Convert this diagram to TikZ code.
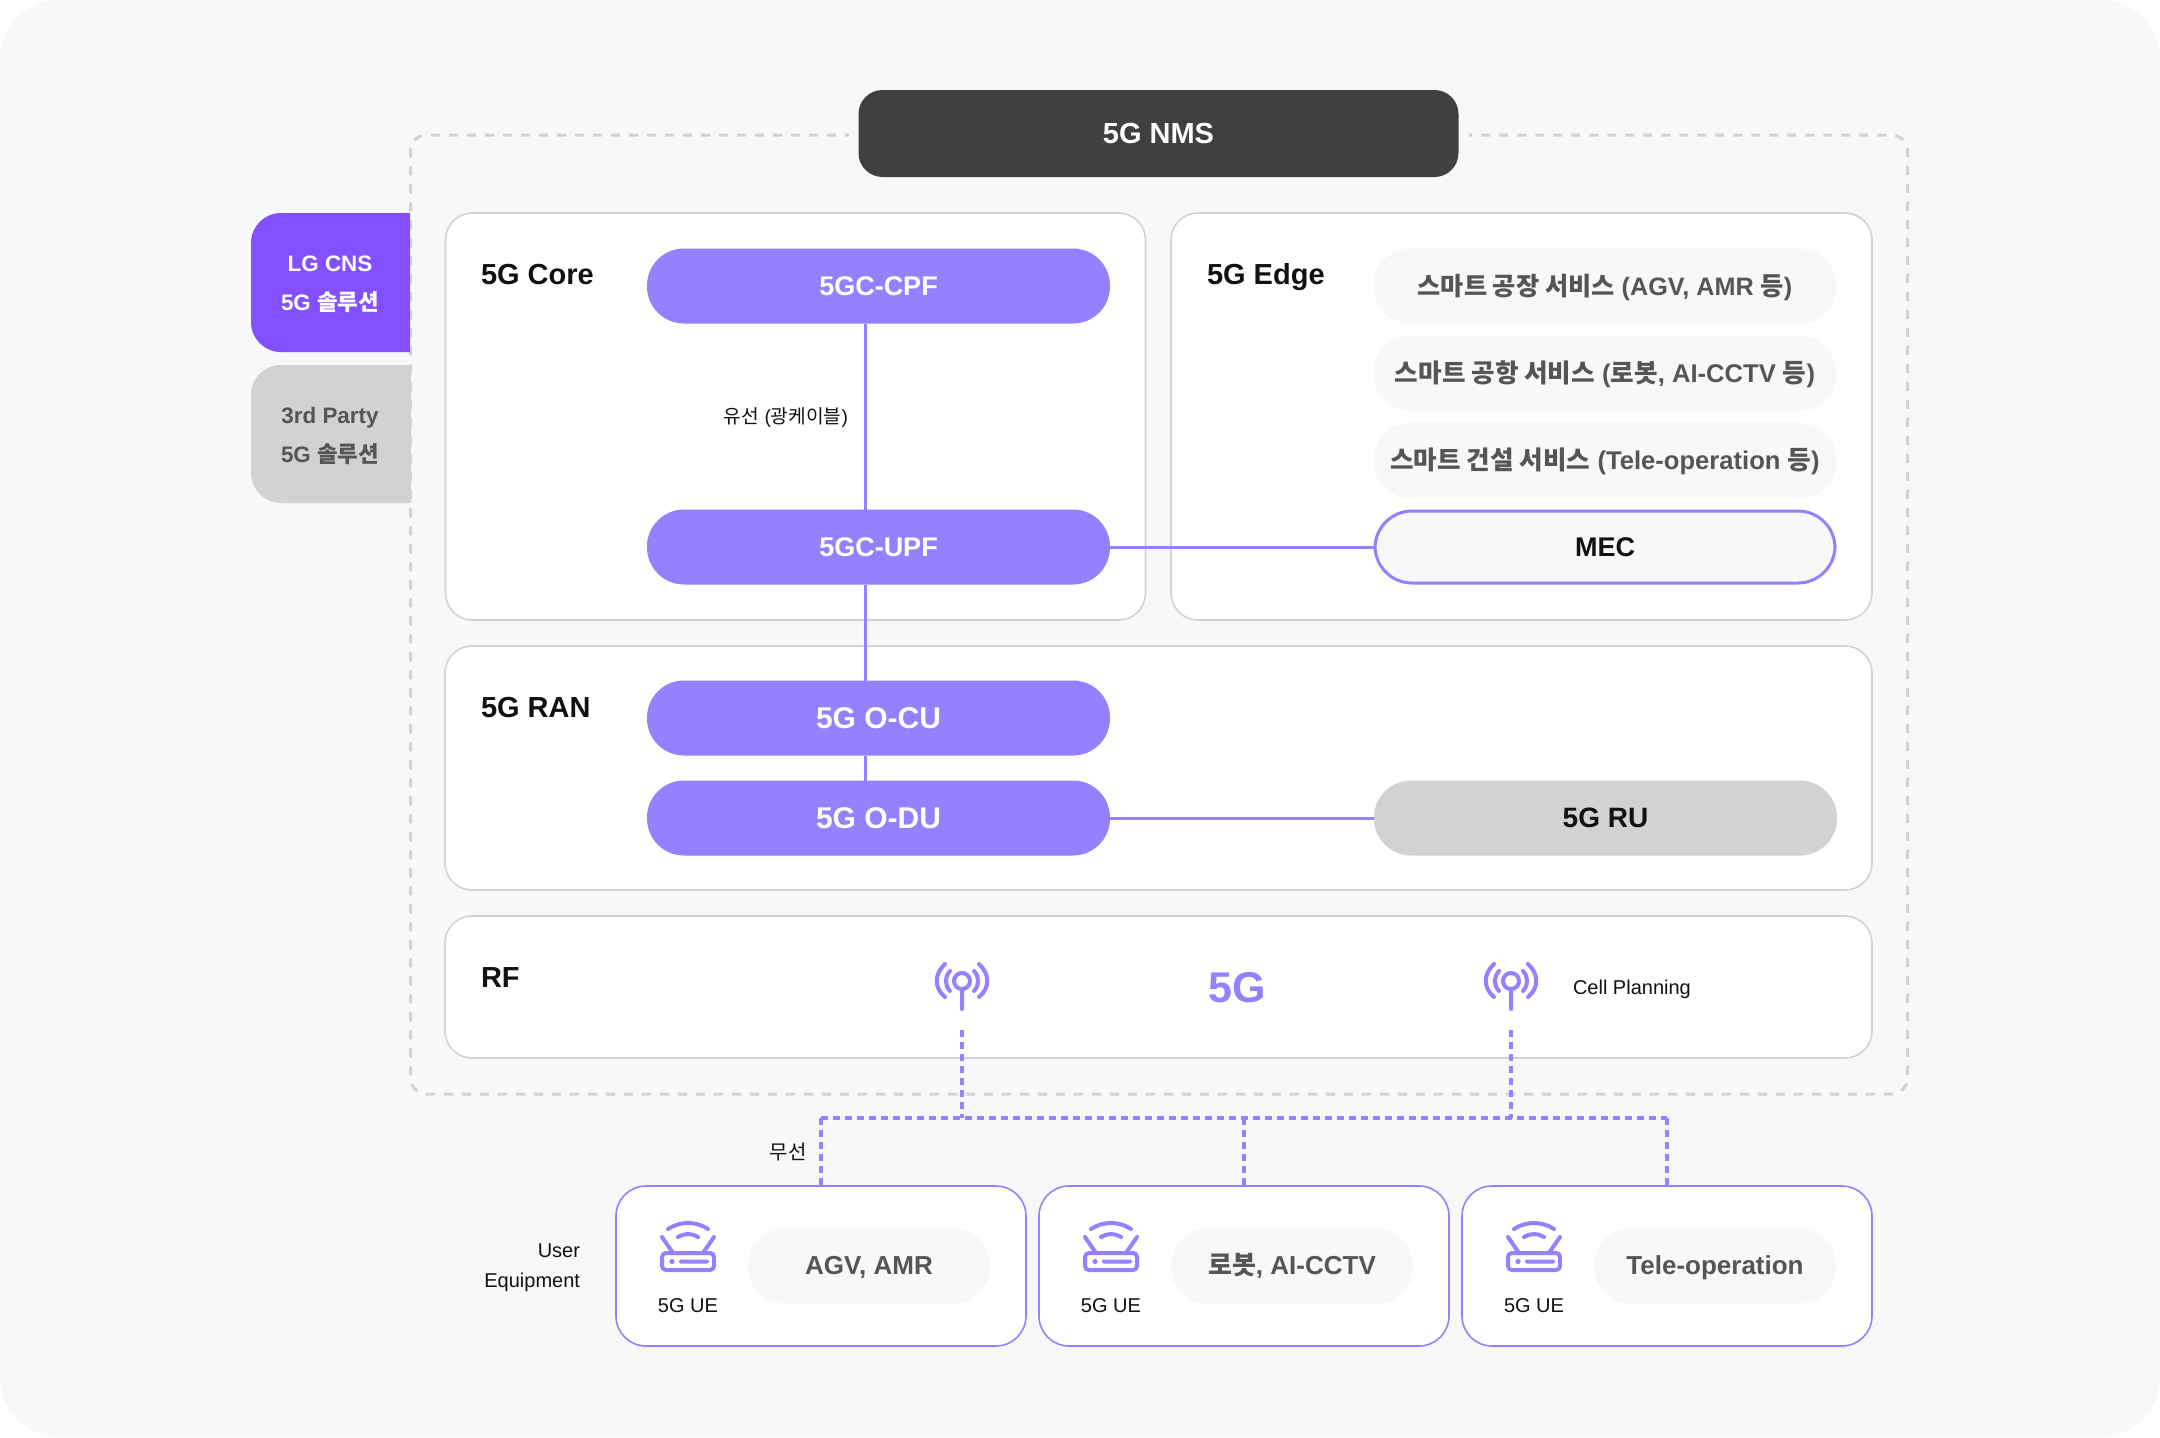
\documentclass[tikz,border=0pt]{standalone}
\usepackage{fontspec}
\usepackage{xcolor}
\usepackage{tikz}
\usetikzlibrary{positioning}
\setmainfont{Liberation Sans}
\newfontfamily\krfont{Noto Sans CJK KR}
\newcommand{\kr}[1]{{\krfont #1}}
\definecolor{pagebg}{HTML}{F7F8FA}
\definecolor{softpurple}{HTML}{9580FF}
\definecolor{deeppurple}{HTML}{8350FF}
\definecolor{softgray}{HTML}{D2D2D2}
\definecolor{darkbar}{HTML}{404040}
\definecolor{inktext}{HTML}{111111}
\definecolor{greytext}{HTML}{555555}
\newcommand{\fsize}[1]{\fontsize{#1}{#1}\selectfont}

\begin{document}
\begin{tikzpicture}[
    x=0.5pt,y=-0.5pt,
    every node/.style={outer sep=0pt, inner sep=0pt, text=inktext},
    capline/.style={text height=#1, text depth=0pt},
    panel/.style={draw=softgray, line width=0.8pt, fill=white, rounded corners=13.5pt},
    paneltitle/.style={capline=10.4pt, anchor=west, font=\bfseries\fsize{14.5}},
    corenode/.style={capline=9.7pt, fill=softpurple, rounded corners=18.5pt, minimum width=231.5pt, minimum height=37.5pt, text=white, font=\bfseries\fsize{13.5}},
    rannode/.style={corenode, capline=10.8pt, font=\bfseries\fsize{15}},
    servicenode/.style={capline=9.2pt, fill=pagebg, rounded corners=18.5pt, minimum width=231.5pt, minimum height=37.5pt, text=greytext, font=\bfseries\fsize{12.8}},
    uebox/.style={draw=softpurple, line width=0.8pt, fill=white, rounded corners=15pt, minimum width=205pt, minimum height=80pt},
    uepill/.style={capline=8.2pt, fill=pagebg, rounded corners=18.5pt, minimum width=121pt, minimum height=37.5pt, text=greytext, font=\bfseries\fsize{13}},
    smalltext/.style={capline=7.2pt, font=\fsize{10}},
    wire/.style={draw=softpurple, line width=1.5pt},
    airlink/.style={draw=softpurple, line width=1.6pt, dash pattern=on 3.5pt off 2.5pt},
    antenna/.pic={
        \draw[softpurple, line width=2pt, line cap=round]
            (0,0) circle[radius=4pt] (0,8) -- (0,28)
            (12,-10) .. controls (17.5,-4) and (17.5,4) .. (12,10)
            (17,-17) .. controls (28,-7) and (28,7) .. (17,16)
            (-12,-10) .. controls (-17.5,-4) and (-17.5,4) .. (-12,10)
            (-17,-17) .. controls (-28,-7) and (-28,7) .. (-17,16);
    },
    router/.pic={
        \draw[softpurple, line width=2pt, line cap=round, line join=round, rounded corners=2pt]
            (-26,0) rectangle (26,17);
        \draw[softpurple, line width=2pt, line cap=round]
            (-15,0) -- (-26,-16) (15,0) -- (26,-16)
            (-20,-24) .. controls (-8,-32) and (8,-32) .. (20,-24)
            (-10,-16) .. controls (-4,-20) and (4,-20) .. (10,-16)
            (-7,8.5) -- (19,8.5);
        \fill[softpurple] (-16,8.5) circle[radius=1.3pt];
    }
]
    \useasboundingbox (0,0) rectangle (2160,1437);
    \fill[pagebg, rounded corners=30pt] (0,0) rectangle (2160,1437);

    % outer frame of the managed network
    \coordinate (frameleft)  at (849,135);
    \coordinate (frameright) at (1469,135);
    \draw[softgray, line width=1.5pt, dash pattern=on 4.5pt off 4.5pt, dash phase=2.5pt, rounded corners=8pt]
        (frameleft) -- (410.5,135) -- (410.5,1094) -- (1907.5,1094) -- (1907.5,135) -- (frameright);

    \node[capline=10.4pt, fill=darkbar, rounded corners=12pt, minimum width=300pt, minimum height=43.5pt, text=white, font=\bfseries\fsize{14.5}]
        (nms) at (1158.5,133.5) {5G NMS};

    % side tabs
    \fill[deeppurple, rounded corners=15pt] (410,213) -- (251,213) -- (251,352) -- (410,352);
    \fill[deeppurple] (395,213) rectangle (410,352);
    \fill[softgray, rounded corners=15pt] (411,365) -- (251,365) -- (251,503) -- (411,503);
    \fill[softgray] (395,365) rectangle (411,503);
    \node[align=center, text=white, font=\bfseries\fontsize{11.2}{19.5}\selectfont]
        (lgcns) at (330,284) {LG CNS\\5G \kr{솔루션}};
    \node[align=center, text=greytext, font=\bfseries\fontsize{11.2}{19.5}\selectfont]
        (party) at (330,436) {3rd Party\\5G \kr{솔루션}};

    % panels
    \node[panel, minimum width=350pt, minimum height=203.5pt] (core) at (795.5,416.5) {};
    \node[panel, minimum width=350.5pt, minimum height=203.5pt] (edge) at (1521.5,416.5) {};
    \node[panel, minimum width=713.5pt, minimum height=122pt] (ran)  at (1158.5,768) {};
    \node[panel, minimum width=713.5pt, minimum height=71pt] (rf)   at (1158.5,987) {};

    \node[paneltitle] (coretitle) at (481,274) {5G Core};
    \node[paneltitle] (edgetitle) at (1207,274) {5G Edge};
    \node[paneltitle] (rantitle)  at (481,707) {5G RAN};
    \node[paneltitle] (rftitle)   at (481,977) {RF};

    % network functions
    \node[corenode] (cpf) at (878.5,286) {5GC-CPF};
    \node[corenode] (upf) [below=93pt of cpf] {5GC-UPF};
    \node[rannode]  (ocu) [below=48pt of upf] {5G O-CU};
    \node[rannode]  (odu) [below=12.5pt of ocu] {5G O-DU};
    \node[corenode, fill=pagebg, draw=softpurple, line width=1.5pt, minimum width=230pt, minimum height=36pt, text=inktext]
        (mec) at (1605,547) {MEC};
    \node[rannode, capline=9pt, fill=softgray, text=inktext, font=\bfseries\fsize{14}] (oru) [right=132pt of odu] {5G RU};

    \node[servicenode, font=\bfseries\fsize{12.6}] (svcone) at (1605,286) {\kr{스마트 공장 서비스} (AGV, AMR \kr{등})};
    \node[servicenode] (svctwo)   at (1605,373.5) {\kr{스마트 공항 서비스} (\kr{로봇}, AI-CCTV \kr{등})};
    \node[servicenode] (svcthree) at (1605,460.5) {\kr{스마트 건설 서비스} (Tele-operation \kr{등})};

    \node[capline=7.2pt, font=\fsize{9.6}, anchor=east] (wired) at (848,416) {\kr{유선} (\kr{광케이블})};

    \coordinate (trunk) at (865,0);
    \path (cpf.south -| trunk) edge[wire] (upf.north -| trunk)
          (upf.south -| trunk) edge[wire] (ocu.north -| trunk)
          (ocu.south -| trunk) edge[wire] (odu.north -| trunk)
          (upf) edge[wire] (mec)
          (odu) edge[wire] (oru);

    % radio
    \pic at (962,981) {antenna};
    \pic at (1511,981) {antenna};
    \node[capline=15.5pt, text=softpurple, font=\bfseries\fsize{21.5}] (fiveg) at (1237,987) {5G};
    \node[smalltext, anchor=west] (cell) at (1573,987) {Cell Planning};

    % user equipment
    \node[uebox] (uea) at (821,1266) {};
    \node[uebox] (ueb) [right=6.5pt of uea] {};
    \node[uebox] (uec) [right=6.5pt of ueb] {};
    \node[uepill] (apps) at (869,1266) {AGV, AMR};
    \node[uepill] (appt) at (1292,1266) {\kr{로봇}, AI-CCTV};
    \node[uepill] (appu) at (1715,1266) {Tele-operation};

    \pic at (688,1253) {router};
    \pic at (1111,1253) {router};
    \pic at (1534,1253) {router};
    \node[smalltext] (uelabela) at (688,1305) {5G UE};
    \node[smalltext] (uelabelb) at (1111,1305) {5G UE};
    \node[smalltext] (uelabelc) at (1534,1305) {5G UE};

    \node[align=right, anchor=east, font=\fontsize{10}{15}\selectfont] (uetitle) at (580,1268) {User\\Equipment};
    \node[smalltext] (wireless) at (788,1152) {\kr{무선}};

    \coordinate (antl)  at (962,1030);
    \coordinate (antr)  at (1511,1030);
    \coordinate (busa)  at (uea.north |- 0,1118);
    \coordinate (busb)  at (ueb.north |- 0,1118);
    \coordinate (busc)  at (uec.north |- 0,1118);
    \coordinate (busl)  at (962,1118);
    \coordinate (busr)  at (1511,1118);
    \path (antl) edge[airlink] (busl)
          (antr) edge[airlink] (busr)
          (busa) edge[airlink] (busc)
          (busa) edge[airlink] (uea.north)
          (busb) edge[airlink] (ueb.north)
          (busc) edge[airlink] (uec.north);
\end{tikzpicture}
\end{document}
